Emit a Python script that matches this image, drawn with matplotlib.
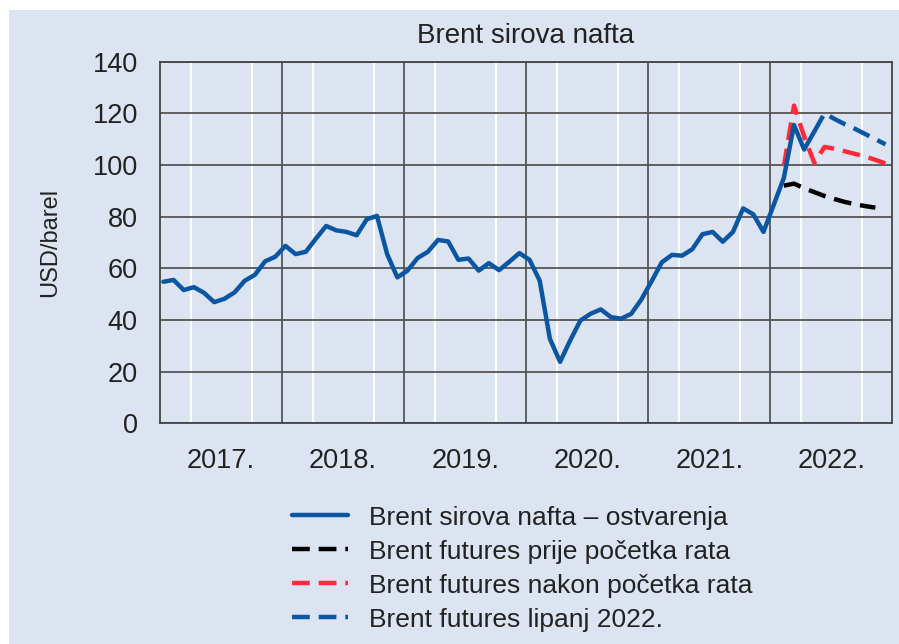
import matplotlib.pyplot as plt
import numpy as np
from matplotlib.patches import Rectangle

plt.rcParams['font.family'] = ['Liberation Sans', 'DejaVu Sans']

# podaci (mjesečno, USD/barel), siječanj 2017. - svibanj 2022.
years = ['2017.', '2018.', '2019.', '2020.', '2021.', '2022.']
brent = [54.8, 55.5, 51.6, 52.7, 50.5, 46.9, 48.2, 50.7, 55.2, 57.5, 62.7, 64.5,
         68.7, 65.5, 66.4, 71.5, 76.4, 74.7, 74.1, 72.8, 79.0, 80.3, 65.5, 56.5,
         59.1, 64.0, 66.4, 71.0, 70.4, 63.3, 63.8, 59.1, 62.0, 59.3, 62.5, 65.9,
         63.3, 55.2, 32.7, 23.8, 32.1, 39.8, 42.4, 44.1, 41.1, 40.5, 42.4, 48.0,
         55.0, 62.3, 65.2, 64.9, 67.4, 73.2, 74.1, 70.3, 74.1, 83.2, 80.9, 74.1,
         84.5, 95.0, 115.5, 106.0, 113.0]

# futures krivulje (početni mjesec kao indeks od siječnja 2017.)
before_start = 61
before_war = [92.0, 92.8, 91.0, 89.5, 88.0, 86.8, 85.7, 84.8, 84.1, 83.5]
after_start = 61
after_war = [99.5, 123.0, 111.0, 100.8, 107.0, 106.3, 105.3, 104.3, 103.3, 102.0, 100.6]
june_start = 64
june_2022 = [113.0, 120.0, 117.8, 115.8, 114.0, 112.0, 110.0, 108.0]

labels = ['Brent sirova nafta – ostvarenja',
          'Brent futures prije početka rata',
          'Brent futures nakon početka rata',
          'Brent futures lipanj 2022.']

bg = '#dce3f1'
blue = '#0b56a2'
red = '#ff2b3a'
grid_dark = '#555555'

fig = plt.figure(figsize=(8.99, 6.44), dpi=100, facecolor=bg)
ax = fig.add_axes([0.178, 0.3427, 0.8146, 0.5615])
ax.set_facecolor(bg)

off = 0.33
x = np.arange(len(brent)) + off
l1, = ax.plot(x, brent, color=blue, lw=3.2, solid_capstyle='round', zorder=5)
l2, = ax.plot(np.arange(len(before_war)) + before_start + off, before_war,
              color='black', lw=3.2, dashes=(4, 2), zorder=4)
l3, = ax.plot(np.arange(len(after_war)) + after_start + off, after_war,
              color=red, lw=3.2, dashes=(4, 2), zorder=4)
l4, = ax.plot(np.arange(len(june_2022)) + june_start + off, june_2022,
              color=blue, lw=3.2, dashes=(4, 2), zorder=4)

ax.set_xlim(0, 72)
ax.set_ylim(0, 140)
ax.set_yticks(range(0, 141, 20))
ax.set_xticks(np.arange(6, 72, 12))
ax.set_xticklabels(years)
ax.set_xticks([q for q in range(3, 72, 3) if q % 12 != 0], minor=True)

ax.set_axisbelow(True)
ax.grid(axis='y', color=grid_dark, lw=1.3)
ax.grid(axis='x', which='minor', color='white', lw=1.5)
for yr in range(12, 72, 12):
    ax.axvline(yr, color=grid_dark, lw=1.3, zorder=1)

for s in ax.spines.values():
    s.set_color('#444444')
    s.set_linewidth(1.3)

ax.tick_params(axis='both', which='both', length=0, labelsize=19.5, colors='#222222')
ax.tick_params(axis='y', pad=16)
ax.tick_params(axis='x', pad=18)

fig.text(0.585, 0.944, 'Brent sirova nafta', ha='center', va='center',
         fontsize=20, color='#222222')
fig.text(50 / 899, 1 - 242 / 644, 'USD/barel', rotation=90, ha='center', va='center',
         fontsize=17, color='#222222')

fig.legend([l1, l2, l3, l4], labels, loc='upper left', bbox_to_anchor=(0.325, 0.215),
           frameon=False, fontsize=19, handlelength=2.1, handletextpad=0.8,
           labelspacing=0.38, borderpad=0, borderaxespad=0, labelcolor='#222222')

# bijeli rub gore i lijevo
fig.add_artist(Rectangle((0, 1 - 10 / 644), 1, 10 / 644, transform=fig.transFigure,
                         color='white', lw=0))
fig.add_artist(Rectangle((0, 0), 9 / 899, 1, transform=fig.transFigure,
                         color='white', lw=0))

fig.savefig('out.png', dpi=100, facecolor=fig.get_facecolor())
